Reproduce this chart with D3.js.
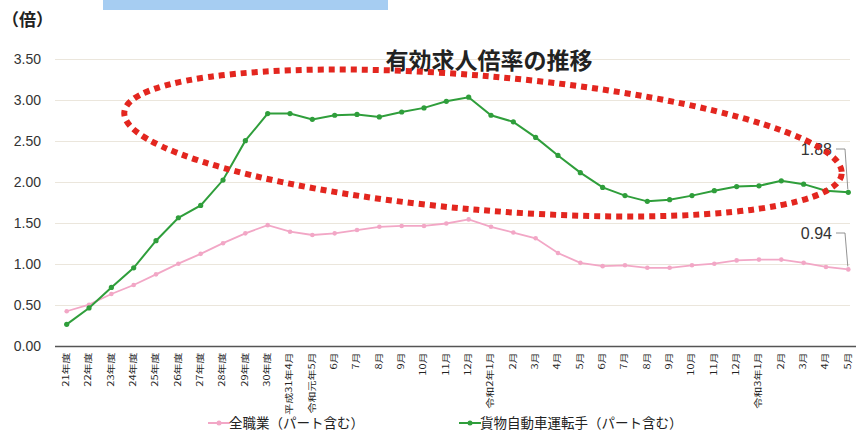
<!DOCTYPE html>
<html><head><meta charset="utf-8">
<script src="https://cdn.jsdelivr.net/npm/d3@7"></script>
<style>
body{margin:0;background:#fff;}
svg{display:block;font-family:"Noto Sans CJK JP","Noto Sans",sans-serif;}
</style></head>
<body>
<svg id="c" width="856" height="432"></svg>
<script>
const categories = ["21年度","22年度","23年度","24年度","25年度","26年度","27年度","28年度","29年度","30年度",
  "平成31年4月","令和元年5月","6月","7月","8月","9月","10月","11月","12月",
  "令和2年1月","2月","3月","4月","5月","6月","7月","8月","9月","10月","11月","12月",
  "令和3年1月","2月","3月","4月","5月"];
const allJobs = [0.43,0.51,0.64,0.75,0.88,1.01,1.13,1.26,1.38,1.48,1.40,1.36,1.38,1.42,
  1.46,1.47,1.47,1.50,1.55,1.46,1.39,1.32,1.14,1.02,0.98,0.99,0.96,
  0.96,0.99,1.01,1.05,1.06,1.06,1.02,0.97,0.94];
const truckDrivers = [0.27,0.47,0.72,0.96,1.29,1.57,1.72,2.03,2.51,2.84,2.84,2.77,2.82,2.83,
  2.80,2.86,2.91,2.99,3.04,2.82,2.74,2.55,2.33,2.12,1.94,1.84,1.77,
  1.79,1.84,1.90,1.95,1.96,2.02,1.98,1.90,1.88];
const yTicks = [0,0.5,1,1.5,2,2.5,3,3.5];
const seriesNames = ["全職業（パート含む）","貨物自動車運転手（パート含む）"];
const title = "有効求人倍率の推移";
const unitLabel = "（倍）";

const svg = d3.select("#c");
const x = d3.scalePoint().domain(d3.range(categories.length)).range([66.7, 848.3]);
const y = d3.scaleLinear().domain([0, 3.5]).range([346.5, 59.5]);

// top blue band
svg.append("rect").attr("x",103).attr("y",0).attr("width",285).attr("height",10).attr("fill","#a6cdf2");

// gridlines
svg.append("g").selectAll("line").data(yTicks.filter(d=>d>0)).join("line")
  .attr("x1",55).attr("x2",850).attr("y1",d=>y(d)).attr("y2",d=>y(d))
  .attr("stroke","#ebe6dc").attr("stroke-width",1);

// y axis labels
const yAxis = d3.axisLeft(y).tickValues(yTicks).tickFormat(d3.format(".2f")).tickSize(0).tickPadding(0);
const gy = svg.append("g").attr("transform","translate(41,0)").call(yAxis);
gy.select(".domain").remove();
gy.selectAll("text").attr("font-family","Liberation Sans, Arial, sans-serif").attr("font-size",14).attr("fill","#333");

// x axis
const xAxis = d3.axisBottom(x).tickSize(0).tickFormat(i=>categories[i]);
const gx = svg.append("g").attr("transform","translate(0,346.5)").call(xAxis);
gx.select(".domain").attr("d","M55,0H856").attr("stroke","#555").attr("stroke-width",1.5);
gx.selectAll("text")
  .attr("font-family","'Noto Sans CJK JP',sans-serif")
  .attr("font-size",11).attr("fill","#222")
  .attr("text-anchor","end").attr("dy","0.35em").attr("y",0)
  .attr("transform","translate(-1,6) rotate(-90) scale(1,0.75)");

// lines
const line = d3.line().x((d,i)=>x(i)).y(d=>y(d));
function drawSeries(data, color, w, r){
  svg.append("path").datum(data).attr("d",line).attr("fill","none").attr("stroke",color).attr("stroke-width",w);
  svg.append("g").selectAll("circle").data(data).join("circle")
    .attr("cx",(d,i)=>x(i)).attr("cy",d=>y(d)).attr("r",r).attr("fill",color);
}
drawSeries(allJobs, "#f2a7c6", 1.8, 2.3);
drawSeries(truckDrivers, "#2f9e3b", 2, 2.6);

// end annotations
const last = categories.length-1;
function annot(val, ty){
  svg.append("text").attr("x",832).attr("y",ty).attr("text-anchor","end")
    .attr("font-family","Liberation Sans, Arial, sans-serif").attr("font-size",16).attr("fill","#333")
    .attr("dy","0.35em").text(val.toFixed(2));
  svg.append("path").attr("d",`M836,${ty}H845L${x(last)-0.5},${y(val)-3}`)
    .attr("fill","none").attr("stroke","#777").attr("stroke-width",0.8);
}
annot(truckDrivers[last], 149);
annot(allJobs[last], 233);

// title & unit
svg.append("text").attr("x",489).attr("y",69).attr("text-anchor","middle")
  .attr("font-size",23).attr("font-weight","bold").attr("fill","#222").text(title);
svg.append("text").attr("x",2).attr("y",26)
  .attr("font-size",17).attr("font-weight","bold").attr("fill","#222").text(unitLabel);

// red dotted ellipse
svg.append("ellipse").attr("cx",483).attr("cy",143).attr("rx",360).attr("ry",67)
  .attr("transform","rotate(4.9 483 143)")
  .attr("fill","none").attr("stroke","#e3261f").attr("stroke-width",6).attr("stroke-dasharray","6 5");

// legend
const leg = [{name:seriesNames[0], color:"#f2a7c6", x0:208},{name:seriesNames[1], color:"#2f9e3b", x0:459}];
const lg = svg.append("g").selectAll("g").data(leg).join("g").attr("transform",d=>`translate(${d.x0},423)`);
lg.append("line").attr("x1",0).attr("x2",22).attr("stroke",d=>d.color).attr("stroke-width",2);
lg.append("circle").attr("cx",11).attr("r",2.5).attr("fill",d=>d.color);
lg.append("text").attr("x",21).attr("dy","0.35em").attr("font-size",13.5).attr("fill","#222").text(d=>d.name);
</script>
</body></html>
